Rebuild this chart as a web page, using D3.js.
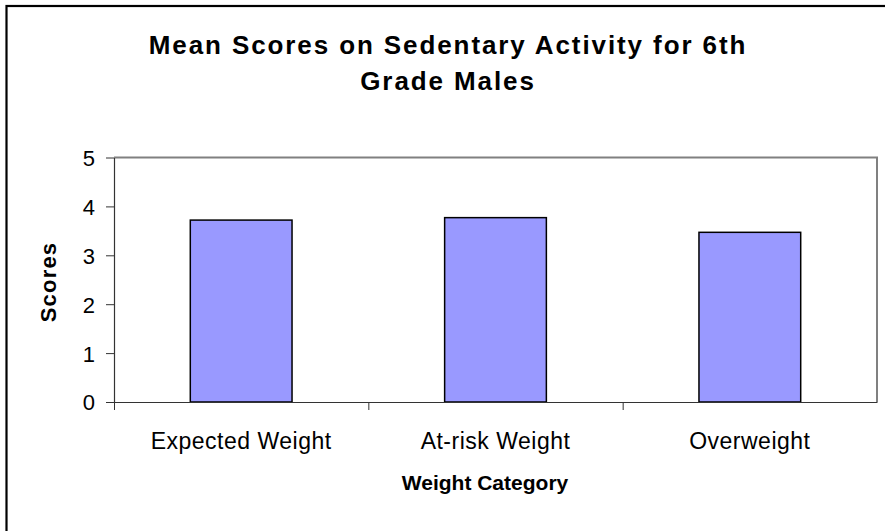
<!DOCTYPE html>
<html>
<head>
<meta charset="utf-8">
<script src="https://cdn.jsdelivr.net/npm/d3@7"></script>
<style>
  body { margin: 0; background: #fff; }
  svg { display: block; font-family: "Liberation Sans", Arial, sans-serif; }
  .title { font-size: 26px; font-weight: bold; text-anchor: middle; letter-spacing: 1.9px; }
  .axis-title { font-size: 21px; font-weight: bold; text-anchor: middle; }
</style>
</head>
<body>
<div id="chart"></div>
<script>
var categories = ["Expected Weight", "At-risk Weight", "Overweight"];
var scores = [3.72, 3.77, 3.47];
var yTicks = [0, 1, 2, 3, 4, 5];

var width = 885, height = 531;
var plot = { left: 114, right: 877, top: 157.5, bottom: 402 };

var svg = d3.select("#chart").append("svg")
    .attr("width", width)
    .attr("height", height);

// outer chart border (runs off the right and bottom edge)
svg.append("rect")
    .attr("x", 6.5).attr("y", 6)
    .attr("width", 900).attr("height", 600)
    .attr("fill", "none")
    .attr("stroke", "#000")
    .attr("stroke-width", 2.2);

// title
var title = svg.append("text").attr("class", "title");
title.append("tspan").attr("x", 448).attr("y", 54).text("Mean Scores on Sedentary Activity for 6th");
title.append("tspan").attr("x", 448).attr("y", 90).text("Grade Males");

var x = d3.scaleBand()
    .domain(categories)
    .range([plot.left, plot.right])
    .paddingInner(0.6)
    .paddingOuter(0.3);

var y = d3.scaleLinear()
    .domain([0, 5])
    .range([plot.bottom, plot.top]);

// plot area border (top and right in grey)
svg.append("path")
    .attr("d", "M" + plot.left + "," + plot.top + "H" + plot.right + "V" + plot.bottom)
    .attr("fill", "none")
    .attr("stroke", "#808080")
    .attr("stroke-width", 2);

// bars
svg.selectAll(".bar")
    .data(scores)
    .enter().append("rect")
    .attr("class", "bar")
    .attr("x", function(d, i) { return x(categories[i]); })
    .attr("y", function(d) { return y(d); })
    .attr("width", x.bandwidth())
    .attr("height", function(d) { return y(0) - y(d); })
    .attr("fill", "#9999FF")
    .attr("stroke", "#000")
    .attr("stroke-width", 1.5);

// y axis
var yAxis = svg.append("g")
    .attr("transform", "translate(" + plot.left + ",0)")
    .call(d3.axisLeft(y).tickValues(yTicks).tickFormat(d3.format("d")).tickSize(8).tickPadding(11).tickSizeOuter(0));
yAxis.attr("font-family", null).attr("font-size", null);
yAxis.select(".domain").attr("stroke", "#333").attr("stroke-width", 1.2);
yAxis.selectAll(".tick line").attr("stroke", "#333");
yAxis.selectAll(".tick text").style("font-size", "22px").attr("dy", "0.36em");

// x axis, ticks between categories
var step = x.step();
var boundaries = d3.range(categories.length).map(function(i) { return plot.left + i * step; });
var xEdge = d3.scaleLinear().domain([plot.left, plot.right]).range([plot.left, plot.right]);
var xAxis = svg.append("g")
    .attr("transform", "translate(0," + plot.bottom + ")")
    .call(d3.axisBottom(xEdge).tickValues(boundaries).tickSize(8).tickFormat("").tickSizeOuter(0));
xAxis.select(".domain").attr("stroke", "#333").attr("stroke-width", 1.2);
xAxis.selectAll(".tick line").attr("stroke", "#333");

// category labels
svg.selectAll(".cat")
    .data(categories)
    .enter().append("text")
    .attr("class", "cat")
    .attr("x", function(d) { return x(d) + x.bandwidth() / 2; })
    .attr("y", 449)
    .attr("text-anchor", "middle")
    .style("font-size", "23px")
    .style("letter-spacing", "0.5px")
    .text(function(d) { return d; });

// axis titles
svg.append("text")
    .attr("class", "axis-title")
    .attr("x", 485)
    .attr("y", 490)
    .text("Weight Category");

svg.append("text")
    .attr("class", "axis-title")
    .attr("transform", "translate(56,282) rotate(-90)")
    .style("font-size", "22px")
    .style("letter-spacing", "1.2px")
    .text("Scores");
</script>
</body>
</html>
